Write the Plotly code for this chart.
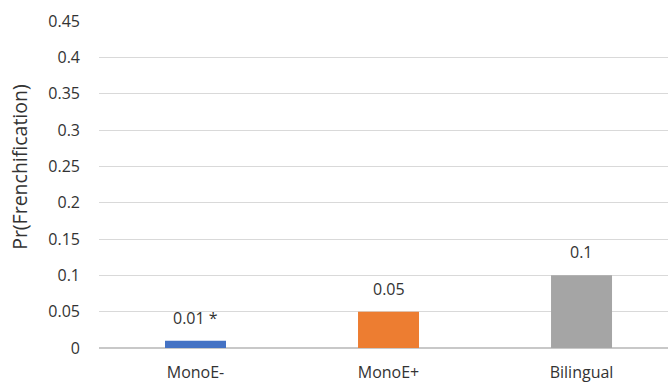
import plotly.graph_objects as go

categories = ["MonoE-", "MonoE+", "Bilingual"]
values = [0.01, 0.05, 0.1]
labels = ["0.01 *", "0.05", "0.1"]
colors = ["#4472C4", "#ED7D31", "#A5A5A5"]
yticks = [0, 0.05, 0.1, 0.15, 0.2, 0.25, 0.3, 0.35, 0.4, 0.45]
ytick_text = ["0", "0.05", "0.1", "0.15", "0.2", "0.25", "0.3", "0.35", "0.4", "0.45"]

FONT = "Open Sans"
TXT = "#333333"

fig = go.Figure()
fig.add_trace(go.Bar(
    x=categories, y=values, marker=dict(color=colors, line=dict(width=0)),
    width=0.316, hoverinfo="skip",
))

for c, v, t in zip(categories, values, labels):
    fig.add_annotation(x=c, y=v, text=t, showarrow=False, yanchor="bottom",
                       yshift=10, font=dict(family=FONT, size=16, color=TXT))

fig.add_annotation(xref="paper", yref="paper", x=-0.14, y=0.555, text="Pr(Frenchification)",
                   textangle=-90, showarrow=False, xanchor="center", yanchor="middle",
                   font=dict(family=FONT, size=19.5, color=TXT))

fig.update_layout(
    width=668, height=385,
    margin=dict(l=99, r=0, t=21, b=37, autoexpand=False),
    plot_bgcolor="white", paper_bgcolor="white",
    showlegend=False,
    xaxis=dict(range=[-0.5, 2.448], showgrid=False, showline=False, zeroline=False,
               automargin=False,
               tickfont=dict(family=FONT, size=16, color=TXT), ticks="", ticklabelstandoff=13),
    yaxis=dict(range=[0, 0.45], tickvals=yticks, ticktext=ytick_text,
               showgrid=True, gridcolor="#D9D9D9", gridwidth=1,
               zeroline=True, zerolinecolor="#C8C8C8", zerolinewidth=2,
               showline=False, ticks="", ticklabelstandoff=18, automargin=False,
               tickfont=dict(family=FONT, size=16, color=TXT)),
)

fig.write_html("out.html")
